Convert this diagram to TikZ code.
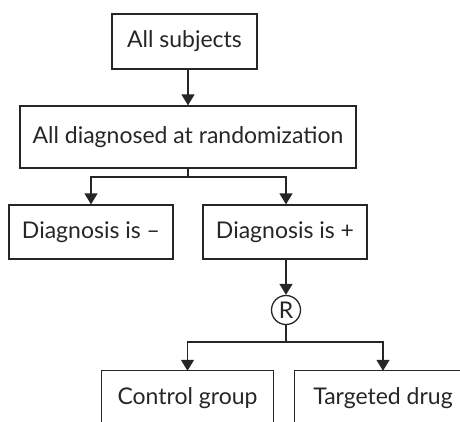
\documentclass[tikz,border=0pt]{standalone}
\usepackage{fontspec}
\setmainfont{Lato}
\usetikzlibrary{arrows.meta}
\begin{document}
\begin{tikzpicture}[x=1pt,y=-1pt,
  every node/.style={text=black!85},
  box/.style={draw=black!85,line width=1.3pt,rectangle,inner sep=0pt,font=\fontsize{23}{27}\selectfont},
  openbox/.style={rectangle,inner sep=0pt,font=\fontsize{23}{27}\selectfont},
  conn/.style={draw=black!85,line width=1.3pt,-{Triangle[width=13pt,length=11pt]}},
  line/.style={draw=black!85,line width=1.3pt}]
\useasboundingbox (0,0) rectangle (460,421);
\clip (0,0) rectangle (460,421);
\node[box,minimum width=145pt,minimum height=55pt] (subj) at (184.5,41.5) {All subjects};
\node[box,minimum width=336pt,minimum height=62pt] (diag) at (188,137) {All diagnosed at randomization};
\node[box,minimum width=164pt,minimum height=54pt] (dminus) at (91,232) {Diagnosis is –};
\node[box,minimum width=164pt,minimum height=54pt] (dplus) at (285,232) {Diagnosis is +};
\node[circle,draw=black!85,line width=1.3pt,minimum size=29pt,inner sep=0pt,font=\fontsize{23}{27}\selectfont] (R) at (286,310) {R};
\node[openbox,minimum width=171pt,minimum height=54pt] (ctrl) at (187.5,398) {Control group};
\node[openbox,minimum width=176pt,minimum height=54pt] (targ) at (383,398) {Targeted drug};
\draw[line] (ctrl.south west) -- (ctrl.north west) -- (ctrl.north east) -- (ctrl.south east);
\draw[line] (targ.south west) -- (targ.north west) -- (targ.north east) -- (targ.south east);
\coordinate (j1) at (188,177);
\coordinate (j2) at (286,342);
\draw[conn] (subj.south -| diag.north) -- (diag.north);
\draw[line] (diag.south) -- (j1);
\draw[conn] (j1) -| (dminus.north);
\draw[conn] (j1) -| ([xshift=1pt]dplus.north);
\draw[conn] ([xshift=1pt]dplus.south) -- (R.north);
\draw[line] (R.south) -- (j2);
\draw[conn] (j2) -| (ctrl.north);
\draw[conn] (j2) -| (targ.north);
\end{tikzpicture}
\end{document}
